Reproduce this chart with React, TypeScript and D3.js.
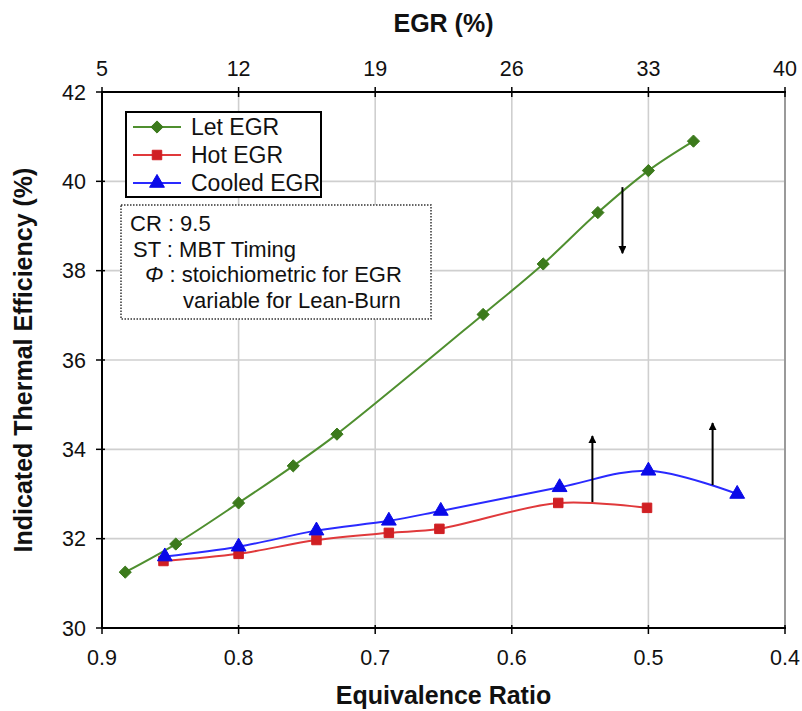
import React from "react";
import * as d3 from "d3";

const letX = [0.883, 0.846, 0.8, 0.76, 0.728, 0.621, 0.577, 0.537, 0.5, 0.467];
const letY = [31.25, 31.88, 32.8, 33.63, 34.34, 37.02, 38.15, 39.3, 40.24, 40.9];
const hotX = [0.855, 0.8, 0.743, 0.69, 0.653, 0.566, 0.501];
const hotY = [31.5, 31.66, 31.97, 32.13, 32.22, 32.8, 32.69];
const coolX = [0.854, 0.8, 0.743, 0.69, 0.652, 0.565, 0.5, 0.435];
const coolY = [31.6, 31.82, 32.18, 32.4, 32.62, 33.15, 33.52, 33.0];

const xTicks = [0.9, 0.8, 0.7, 0.6, 0.5, 0.4];
const yTicks = [30, 32, 34, 36, 38, 40, 42];
const egrTicks = [5, 12, 19, 26, 33, 40];

const arrowX = [0.519, 0.541, 0.453];
const arrowFrom = [39.87, 32.82, 33.2];
const arrowTo = [38.39, 34.3, 34.59];

const seriesNames = ["Let EGR", "Hot EGR", "Cooled EGR"];
const noteLines = ["CR : 9.5", "ST : MBT Timing", "\u03A6 : stoichiometric for EGR", "variable for Lean-Burn"];

const W = 802, H = 711;
const L = 102, R = 785, T = 92, B = 628;
const FONT = "'Liberation Sans', Arial, sans-serif";

export default function App() {
  const x = d3.scaleLinear().domain([0.9, 0.4]).range([L, R]);
  const xe = d3.scaleLinear().domain([5, 40]).range([L, R]);
  const y = d3.scaleLinear().domain([30, 42]).range([B, T]);
  const line = d3
    .line<[number, number]>()
    .x((d) => x(d[0]))
    .y((d) => y(d[1]))
    .curve(d3.curveCatmullRom.alpha(0.5));

  const diamond = (d3 as any).symbolDiamond2 || d3.symbolDiamond;
  const series = [
    { xs: letX, ys: letY, line: "#4f8f2f", fill: "#3c7a1c", sym: diamond, size: 95 },
    { xs: hotX, ys: hotY, line: "#e0393b", fill: "#d01f23", sym: d3.symbolSquare, size: 90 },
    { xs: coolX, ys: coolY, line: "#2a2aff", fill: "#0a0ae8", sym: d3.symbolTriangle, size: 95 },
  ];

  const sym = (s: any, size: number) => d3.symbol().type(s).size(size)() as string;

  return (
    <svg
      width={W}
      height={H}
      style={{ position: "absolute", left: 0, top: 0, background: "#fff" }}
      fontFamily={FONT}
    >
      <defs>
        <marker id="ah" viewBox="0 0 10 10" refX="9" refY="5" markerWidth="4" markerHeight="4" orient="auto">
          <path d="M0,0 L10,5 L0,10 z" fill="#000" />
        </marker>
      </defs>
      {xTicks.slice(1, -1).map((t) => (
        <line key={"gx" + t} x1={x(t)} x2={x(t)} y1={T} y2={B} stroke="#cfcfcf" strokeWidth={1.6} />
      ))}
      {yTicks.slice(1, -1).map((t) => (
        <line key={"gy" + t} x1={L} x2={R} y1={y(t)} y2={y(t)} stroke="#cfcfcf" strokeWidth={1.6} />
      ))}
      <line x1={R} x2={R} y1={T} y2={B} stroke="#9a9a9a" strokeWidth={2} />
      <line x1={L} x2={L} y1={T} y2={B + 1} stroke="#000" strokeWidth={2} />
      <line x1={L - 1} x2={R + 1} y1={B} y2={B} stroke="#000" strokeWidth={2} />
      <line x1={L - 1} x2={R + 1} y1={T} y2={T} stroke="#000" strokeWidth={2} />
      {yTicks.map((t) => (
        <g key={"yt" + t}>
          <line x1={L - 6} x2={L + 3} y1={y(t)} y2={y(t)} stroke="#000" strokeWidth={1.5} />
          <text x={86} y={y(t) + 7.5} textAnchor="end" fontSize={21.5} fill="#111">
            {t}
          </text>
        </g>
      ))}
      {xTicks.map((t) => (
        <g key={"xt" + t}>
          <line x1={x(t)} x2={x(t)} y1={B - 3} y2={B + 6} stroke="#000" strokeWidth={1.5} />
          <text x={x(t)} y={665} textAnchor="middle" fontSize={21.5} fill="#111">
            {d3.format(".1f")(t)}
          </text>
        </g>
      ))}
      {egrTicks.map((t) => (
        <g key={"et" + t}>
          <line x1={xe(t)} x2={xe(t)} y1={T - 5} y2={T + 5} stroke="#000" strokeWidth={1.5} />
          <text x={xe(t)} y={76} textAnchor="middle" fontSize={21.5} fill="#111">
            {t}
          </text>
        </g>
      ))}
      <text x={(L + R) / 2} y={32} textAnchor="middle" fontSize={25} fontWeight="bold" fill="#111">
        EGR (%)
      </text>
      <text x={(L + R) / 2} y={704} textAnchor="middle" fontSize={25} fontWeight="bold" fill="#111">
        Equivalence Ratio
      </text>
      <text
        transform={`translate(32,${(T + B) / 2}) rotate(-90)`}
        textAnchor="middle"
        fontSize={25}
        fontWeight="bold"
        fill="#111"
      >
        Indicated Thermal Efficiency (%)
      </text>
      {series.map((s, i) => {
        const pts: [number, number][] = s.xs.map((v, j) => [v, s.ys[j]]);
        return (
          <g key={"s" + i}>
            <path d={line(pts) as string} fill="none" stroke={s.line} strokeWidth={2} />
            {pts.map((p, j) => (
              <path
                key={j}
                d={sym(s.sym, s.size)}
                transform={`translate(${x(p[0])},${y(p[1])})`}
                fill={s.fill}
                stroke={s.fill}
                strokeWidth={1}
                strokeLinejoin="round"
              />
            ))}
          </g>
        );
      })}
      {arrowX.map((a, i) => (
        <line
          key={"ar" + i}
          x1={x(a)}
          x2={x(a)}
          y1={y(arrowFrom[i])}
          y2={y(arrowTo[i])}
          stroke="#000"
          strokeWidth={2}
          markerEnd="url(#ah)"
        />
      ))}
      <rect x={126} y={112} width={195} height={85} fill="#fff" stroke="#000" strokeWidth={2} />
      {seriesNames.map((n, i) => {
        const cy = 127 + i * 28;
        const s = series[i];
        return (
          <g key={"lg" + i}>
            <line x1={133} x2={181} y1={cy} y2={cy} stroke={s.line} strokeWidth={2} />
            <path
              d={sym(s.sym, s.size)}
              transform={`translate(157,${cy})`}
              fill={s.fill}
              stroke={s.fill}
              strokeWidth={1}
              strokeLinejoin="round"
            />
            <text x={191} y={cy + 8} fontSize={23} fill="#111">
              {n}
            </text>
          </g>
        );
      })}
      <rect x={121} y={205} width={310} height={114} fill="#fff" stroke="#333" strokeWidth={1.5} strokeDasharray="1.5,1.5" />
      {noteLines.map((t, i) => {
        const xs = [130, 133, 145, 183];
        return (
          <text key={"nt" + i} x={xs[i]} y={231 + i * 25.7} fontSize={22} fill="#111">
            {i === 2 ? (
              <>
                <tspan fontStyle="italic">{"\u03A6"}</tspan>
                {t.slice(1)}
              </>
            ) : (
              t
            )}
          </text>
        );
      })}
    </svg>
  );
}
